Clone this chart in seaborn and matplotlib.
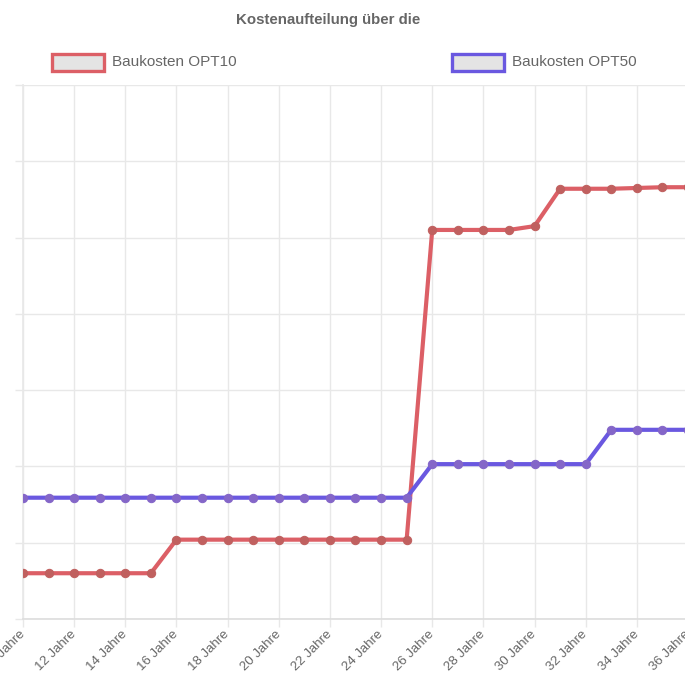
import matplotlib
matplotlib.use("Agg")
import matplotlib.pyplot as plt
import seaborn as sns
import pandas as pd
from matplotlib.patches import Rectangle
from matplotlib.ticker import MultipleLocator

# Years on the x axis
years = list(range(10, 37))

# Construction costs per scenario
baukosten_opt10 = [6000] * 6 + [10400] * 10 + [51000] * 4 + [51500] + \
    [56400, 56400, 56400, 56500, 56600, 56600]
baukosten_opt50 = [15900] * 16 + [20300] * 7 + [24800] * 4

series_names = ["Baukosten OPT10", "Baukosten OPT50"]
line_colors = ["#dc5f66", "#6a58e0"]
point_colors = ["#c0605f", "#8466c8"]
tick_years = list(range(10, 37, 2))
tick_labels = [f"{y} Jahre" for y in tick_years]
title_text = "Kostenaufteilung über die"

df = pd.DataFrame({
    "Jahr": years * 2,
    "Kosten": baukosten_opt10 + baukosten_opt50,
    "Serie": [series_names[0]] * len(years) + [series_names[1]] * len(years),
})

sns.set_theme(style="white")
plt.rcParams["font.family"] = ["Liberation Sans", "DejaVu Sans"]

W, H = 685, 681
fig = plt.figure(figsize=(W / 100, H / 100), dpi=100)
fig.patch.set_facecolor("white")

# Plot area in pixel coordinates (left, top, right, bottom)
px_left, px_top, px_right, px_bottom = 23, 85, 688, 619
ax = fig.add_axes([px_left / W, 1 - px_bottom / H,
                   (px_right - px_left) / W, (px_bottom - px_top) / H])

for name, lc, pc in zip(series_names, line_colors, point_colors):
    sub = df[df["Serie"] == name]
    sns.lineplot(data=sub, x="Jahr", y="Kosten", ax=ax, color=lc,
                 linewidth=3.0, marker="o", markersize=6.0,
                 markerfacecolor=pc, markeredgecolor=pc, legend=False,
                 zorder=3)

ax.set_xlim(10, 36)
ax.set_ylim(0, 70000)
ax.yaxis.set_major_locator(MultipleLocator(10000))
ax.set_xticks(tick_years)
ax.set_xticklabels(tick_labels, rotation=45, ha="right", va="center",
                   rotation_mode="anchor", color="#666666", fontsize=9.5)
ax.set_yticklabels([])
ax.set_xlabel("")
ax.set_ylabel("")

grid_c = "#e8e8e8"
ax.grid(True, color=grid_c, linewidth=1.0)
ax.set_axisbelow(True)
ax.tick_params(axis="both", which="both", length=6, width=1.0, color=grid_c,
               direction="out", bottom=True, left=True)
ax.tick_params(axis="x", pad=4)
for side in ["top", "right"]:
    ax.spines[side].set_visible(False)
ax.spines["left"].set_color(grid_c)
ax.spines["bottom"].set_color("#dddddd")
ax.spines["bottom"].set_linewidth(1.2)

# Title
fig.text(328 / W, 1 - 20 / H, title_text, ha="center", va="center",
         fontsize=10.8, fontweight="bold", color="#666666")

# Legend entries
legend_items = [(52, series_names[0], line_colors[0]),
                (452, series_names[1], line_colors[1])]
for x0, label, col in legend_items:
    fig.patches.append(Rectangle((x0 / W, 1 - 71 / H), 52 / W, 17 / H,
                                 transform=fig.transFigure, facecolor="#e4e4e4",
                                 edgecolor=col, linewidth=2.4))
    fig.text((x0 + 60) / W, 1 - 62 / H, label, ha="left", va="center",
             fontsize=11, color="#666666")

fig.savefig("out.png", dpi=100, facecolor="white")
